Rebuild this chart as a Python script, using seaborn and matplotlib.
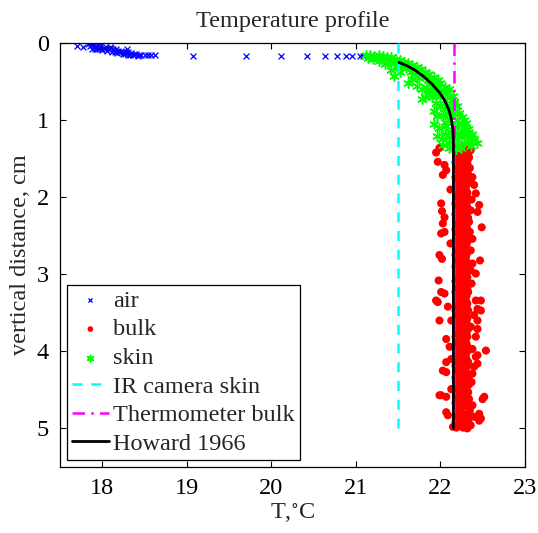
import numpy as np
import matplotlib
matplotlib.use("Agg")
import matplotlib.pyplot as plt
import seaborn as sns

# ---------------- data ----------------
# air: (T, depth)
air_pts = [
    (17.83, 0.01), (17.86, 0.00), (17.88, 0.03), (17.90, 0.01), (17.92, 0.04),
    (17.95, 0.02), (17.97, 0.05), (17.99, 0.03), (18.02, 0.06), (18.05, 0.05),
    (18.08, 0.07), (18.10, 0.06), (18.13, 0.08), (18.16, 0.08), (18.19, 0.10),
    (18.22, 0.10), (18.25, 0.11), (18.28, 0.12), (18.31, 0.12), (18.34, 0.13),
    (18.37, 0.14), (18.40, 0.14), (18.43, 0.15), (18.46, 0.15), (18.50, 0.16),
    (18.54, 0.16), (18.58, 0.16), (18.62, 0.16), (17.88, 0.07), (17.94, 0.08),
    (18.00, 0.09), (18.06, 0.10), (18.12, 0.11), (18.18, 0.13), (18.24, 0.14),
    (18.30, 0.15), (18.36, 0.16), (18.42, 0.17), (17.70, 0.04), (17.77, 0.05),
    (17.91, 0.08), (18.09, 0.05), (18.29, 0.08), (17.85, 0.04), (17.96, 0.07),
    (18.04, 0.08), (18.15, 0.11), (18.21, 0.12), (18.27, 0.14), (18.33, 0.15),
    (19.07, 0.17), (19.70, 0.17), (20.11, 0.17), (20.42, 0.17), (20.63, 0.17),
    (20.78, 0.17), (20.89, 0.17), (20.95, 0.17), (21.05, 0.17), (21.09, 0.17),
]

# bulk core rows: (depth, T_left, T_mid, T_right)
bulk_core = [
    (1.36, 22.19, 22.25, 22.31), (1.41, 22.18, 22.24, 22.30), (1.46, 22.20, 22.26, 22.32),
    (1.50, 22.19, 22.25, 22.33), (1.55, 22.18, 22.24, 22.30), (1.60, 22.20, 22.27, 22.32),
    (1.65, 22.19, 22.25, 22.31), (1.70, 22.21, 22.26, 22.33), (1.74, 22.18, 22.24, 22.30),
    (1.79, 22.19, 22.25, 22.32), (1.84, 22.20, 22.26, 22.31), (1.89, 22.18, 22.24, 22.30),
    (1.94, 22.19, 22.25, 22.32), (1.98, 22.21, 22.27, 22.31), (2.03, 22.20, 22.25, 22.30),
    (2.08, 22.18, 22.24, 22.31), (2.13, 22.19, 22.26, 22.32), (2.18, 22.20, 22.25, 22.30),
    (2.22, 22.18, 22.24, 22.31), (2.27, 22.19, 22.25, 22.33), (2.32, 22.21, 22.26, 22.30),
    (2.37, 22.19, 22.24, 22.31), (2.42, 22.18, 22.25, 22.32), (2.46, 22.20, 22.26, 22.30),
    (2.51, 22.19, 22.24, 22.31), (2.56, 22.18, 22.25, 22.33), (2.61, 22.20, 22.27, 22.31),
    (2.66, 22.21, 22.25, 22.30), (2.70, 22.19, 22.24, 22.32), (2.75, 22.18, 22.26, 22.31),
    (2.80, 22.20, 22.25, 22.30), (2.85, 22.19, 22.24, 22.32), (2.90, 22.18, 22.26, 22.33),
    (2.94, 22.20, 22.25, 22.31), (2.99, 22.19, 22.24, 22.30), (3.04, 22.21, 22.27, 22.32),
    (3.09, 22.18, 22.25, 22.31), (3.14, 22.19, 22.24, 22.30), (3.18, 22.20, 22.26, 22.32),
    (3.23, 22.18, 22.25, 22.33), (3.28, 22.19, 22.24, 22.31), (3.33, 22.20, 22.26, 22.30),
    (3.38, 22.21, 22.25, 22.32), (3.42, 22.19, 22.27, 22.31), (3.47, 22.18, 22.24, 22.33),
    (3.52, 22.20, 22.25, 22.30), (3.57, 22.19, 22.26, 22.32), (3.62, 22.18, 22.24, 22.31),
    (3.66, 22.20, 22.25, 22.30), (3.71, 22.19, 22.27, 22.33), (3.76, 22.21, 22.25, 22.31),
    (3.81, 22.18, 22.24, 22.32), (3.86, 22.19, 22.26, 22.30), (3.90, 22.20, 22.25, 22.31),
    (3.95, 22.18, 22.24, 22.33), (4.00, 22.19, 22.26, 22.32), (4.05, 22.20, 22.25, 22.30),
    (4.10, 22.21, 22.27, 22.31), (4.14, 22.19, 22.24, 22.33), (4.19, 22.18, 22.25, 22.32),
    (4.24, 22.20, 22.26, 22.30), (4.29, 22.19, 22.25, 22.31), (4.34, 22.18, 22.24, 22.33),
    (4.38, 22.20, 22.26, 22.32), (4.43, 22.19, 22.25, 22.34), (4.48, 22.21, 22.27, 22.31),
    (4.53, 22.18, 22.24, 22.33), (4.58, 22.19, 22.26, 22.32), (4.62, 22.20, 22.25, 22.34),
    (4.67, 22.18, 22.24, 22.31), (4.72, 22.19, 22.26, 22.33), (4.77, 22.20, 22.25, 22.35),
    (4.82, 22.21, 22.27, 22.32), (4.86, 22.19, 22.24, 22.34), (4.91, 22.18, 22.26, 22.33),
    (4.96, 22.20, 22.25, 22.35), (4.99, 22.19, 22.27, 22.32),
]

# bulk scattered points: (T, depth)
bulk_scatter = [
    (21.95, 1.42), (21.99, 1.36), (21.97, 1.54), (22.05, 1.58), (22.07, 1.65),
    (22.03, 1.71), (22.36, 1.39), (22.34, 1.48), (22.32, 1.56), (22.38, 1.74),
    (22.36, 1.80), (22.40, 1.84), (22.42, 1.95), (22.46, 2.10), (22.44, 2.19),
    (22.49, 2.39), (22.01, 2.08), (22.02, 2.18), (22.05, 2.26), (22.03, 2.34),
    (22.01, 2.47), (22.05, 2.45), (22.36, 2.17), (22.34, 2.32), (22.38, 2.54),
    (22.36, 2.69), (21.99, 2.75), (22.02, 2.80), (22.47, 2.82), (22.38, 2.86),
    (22.42, 2.99), (22.36, 2.95), (21.98, 3.08), (22.01, 3.23), (22.05, 3.25),
    (21.97, 3.36), (21.95, 3.34), (22.09, 3.42), (22.42, 3.34), (22.48, 3.34),
    (22.44, 3.45), (22.48, 3.47), (22.40, 3.53), (22.44, 3.60), (21.99, 3.60),
    (22.44, 3.71), (22.42, 3.81), (22.07, 3.84), (22.11, 3.94), (22.54, 3.99),
    (22.38, 3.97), (22.42, 4.07), (22.44, 4.16), (22.40, 4.20), (22.13, 4.10),
    (22.07, 4.14), (22.03, 4.25), (22.07, 4.27), (22.38, 4.29), (22.13, 4.49),
    (22.01, 4.57), (22.07, 4.59), (22.52, 4.59), (22.50, 4.62), (22.07, 4.79),
    (22.09, 4.83), (22.46, 4.81), (22.40, 4.85), (22.46, 4.90), (22.36, 4.96),
    (22.15, 4.98), (22.32, 5.00), (21.99, 4.57), (22.48, 4.87), (22.44, 4.05),
    (22.35, 1.62), (22.37, 2.03), (22.35, 2.45), (22.37, 3.12), (22.36, 3.68),
    (22.37, 4.40), (22.38, 4.70), (22.12, 1.90), (22.12, 2.60), (22.13, 3.60),
]

# skin: (T, depth)
skin_pts = [
    (21.12, 0.16), (21.17, 0.15), (21.22, 0.17), (21.27, 0.16), (21.32, 0.17),
    (21.37, 0.18), (21.42, 0.18), (21.47, 0.20), (21.20, 0.20), (21.30, 0.21),
    (21.40, 0.23), (21.35, 0.27), (21.45, 0.26), (21.52, 0.22), (21.57, 0.24),
    (21.62, 0.26), (21.67, 0.28), (21.72, 0.31), (21.55, 0.29), (21.60, 0.32),
    (21.50, 0.31), (21.42, 0.35), (21.45, 0.42), (21.52, 0.38), (21.65, 0.37),
    (21.70, 0.40), (21.77, 0.34), (21.82, 0.37), (21.87, 0.40), (21.92, 0.44),
    (21.97, 0.48), (21.62, 0.52), (21.67, 0.47), (21.75, 0.45), (21.80, 0.43),
    (21.85, 0.48), (21.90, 0.52), (21.95, 0.56), (22.00, 0.52), (22.05, 0.57),
    (22.03, 0.62), (21.78, 0.60), (21.83, 0.57), (21.72, 0.55), (21.88, 0.62),
    (21.82, 0.70), (21.78, 0.72), (21.90, 0.70), (21.95, 0.66), (22.00, 0.68),
    (22.08, 0.63), (22.12, 0.70), (22.16, 0.76), (22.20, 0.82), (22.06, 0.74),
    (21.95, 0.78), (22.00, 0.82), (22.05, 0.86), (21.92, 0.88), (21.96, 0.94),
    (22.03, 0.93), (22.10, 0.92), (22.15, 0.90), (22.22, 0.90), (22.26, 0.96),
    (22.20, 1.00), (22.12, 1.00), (22.05, 1.02), (21.92, 1.05), (21.98, 1.10),
    (22.07, 1.08), (22.17, 1.07), (22.24, 1.06), (22.30, 1.04), (22.33, 1.12),
    (22.26, 1.14), (22.20, 1.16), (22.13, 1.15), (22.05, 1.18), (22.02, 1.24),
    (22.10, 1.22), (22.17, 1.24), (22.25, 1.22), (22.32, 1.20), (22.38, 1.18),
    (22.40, 1.25), (22.35, 1.28), (22.28, 1.30), (22.20, 1.32), (22.12, 1.30),
    (22.03, 1.32), (22.10, 1.36), (22.25, 1.36), (22.36, 1.34), (22.44, 1.30),
    (22.18, 1.38), (22.10, 0.60), (22.15, 0.68), (22.28, 1.00), (22.36, 1.22),
    (21.25, 0.19), (21.58, 0.28), (21.68, 0.33), (21.88, 0.46), (21.93, 0.60),
    (21.86, 0.66), (22.08, 0.80), (22.14, 0.84), (22.30, 1.12), (21.96, 1.20),
    (21.15, 0.19), (21.28, 0.23), (21.38, 0.21), (21.48, 0.24), (21.62, 0.30),
]

# lines
ir_T = [21.5, 21.5]
ir_d = [0.0, 5.0]
thermo_T = [22.16, 22.16]
thermo_d = [0.0, 5.0]
howard_T = [21.51, 21.60, 21.70, 21.80, 21.90, 21.99, 22.05, 22.10, 22.13, 22.15,
            22.155, 22.155, 22.155, 22.155, 22.155]
howard_d = [0.25, 0.29, 0.35, 0.43, 0.53, 0.64, 0.74, 0.86, 0.98, 1.13,
            1.30, 2.00, 3.00, 4.00, 5.00]

x_ticks = [18, 19, 20, 21, 22, 23]
y_ticks = [0, 1, 2, 3, 4, 5]

# ---------------- build arrays ----------------
air_T = [p[0] for p in air_pts]
air_d = [p[1] for p in air_pts]
bulk_T, bulk_d = [], []
for row in bulk_core:
    for t in row[1:]:
        bulk_T.append(t)
        bulk_d.append(row[0])
for t, d in bulk_scatter:
    bulk_T.append(t)
    bulk_d.append(d)
skin_T = [p[0] for p in skin_pts]
skin_d = [p[1] for p in skin_pts]

# ---------------- plot ----------------
sns.set_style("ticks")
plt.rcParams["font.family"] = ["Liberation Serif", "DejaVu Serif"]
plt.rcParams["mathtext.fontset"] = "stix"

FS = 17.5
fig = plt.figure(figsize=(5.38, 5.33), dpi=100)
ax = fig.add_axes([0.1115, 0.124, 0.864, 0.795])

sns.scatterplot(x=air_T, y=air_d, ax=ax, marker="x", color=(0, 0, 1), s=18,
                linewidth=0.9, label="air", zorder=2)
sns.scatterplot(x=bulk_T, y=bulk_d, ax=ax, marker="o", color=(1, 0, 0), s=34,
                edgecolor="none", label="bulk", zorder=3)
sns.scatterplot(x=skin_T, y=skin_d, ax=ax, marker=(6, 2, 0), color=(0, 1, 0), s=45,
                linewidth=1.1, edgecolor=(0, 1, 0), label="skin", zorder=4)
sns.lineplot(x=ir_T, y=ir_d, ax=ax, sort=False, estimator=None, color=(0, 1, 1),
             linewidth=1.8, linestyle=(0, (4, 3.5)), label="IR camera skin", zorder=5)
sns.lineplot(x=thermo_T, y=thermo_d, ax=ax, sort=False, estimator=None, color=(1, 0, 1),
             linewidth=1.8, linestyle=(0, (5, 2.5, 1, 2.5)), label="Thermometer bulk", zorder=6)
sns.lineplot(x=howard_T, y=howard_d, ax=ax, sort=False, estimator=None, color="black",
             linewidth=2.0, label="Howard 1966", zorder=7)

ax.set_xlim(17.5, 23)
ax.set_ylim(5.5, 0)
ax.set_xticks(x_ticks)
ax.set_yticks(y_ticks)
ax.tick_params(direction="in", top=True, right=True, labelsize=FS, length=4, width=0.8,
               colors="black", pad=8)
for sp in ax.spines.values():
    sp.set_visible(True)
    sp.set_linewidth(0.9)
    sp.set_color("black")

ax.set_title("Temperature profile", fontsize=FS, pad=12)
ax.set_xlabel("T,$^{\\circ}$C", fontsize=FS, labelpad=2)
ax.set_ylabel("vertical distance, cm", fontsize=FS, labelpad=4)

leg = ax.legend(loc="lower left", fontsize=FS, fancybox=False, edgecolor="black",
                framealpha=1, borderaxespad=0.3, handlelength=1.5, handletextpad=0.2,
                labelspacing=0.27, borderpad=0.2, markerscale=0.7)
leg.get_frame().set_linewidth(0.9)

fig.savefig("out.png", dpi=100)
